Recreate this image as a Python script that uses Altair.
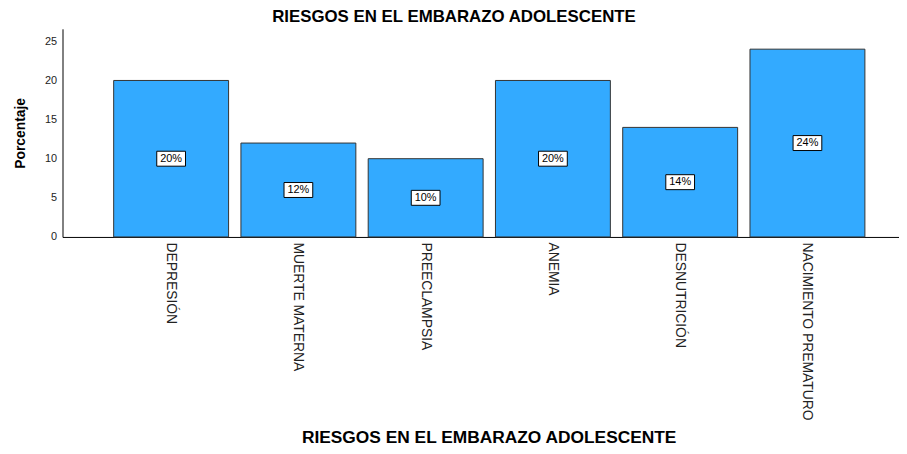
import altair as alt
import pandas as pd

categories = ["DEPRESIÓN", "MUERTE MATERNA", "PREECLAMPSIA", "ANEMIA", "DESNUTRICIÓN", "NACIMIENTO PREMATURO"]
values = [20, 12, 10, 20, 14, 24]
labels = ["20%", "12%", "10%", "20%", "14%", "24%"]

df = pd.DataFrame({"cat": categories, "val": values, "lab": labels})

TITLE = "RIESGOS EN EL EMBARAZO ADOLESCENTE"

xscale = alt.Scale(paddingInner=0.097, paddingOuter=0.335, align=0.6)
yscale = alt.Scale(domain=[0, 26.6], nice=False)

xenc = alt.X("cat:N", sort=categories, scale=xscale,
             axis=alt.Axis(title=TITLE, labelAngle=90, labelAlign="left", labelBaseline="middle",
                           labelFont="Liberation Sans", labelFontSize=14, labelColor="#222",
                           labelPadding=5, ticks=False, domainColor="#000", domainWidth=1,
                           titleFont="Liberation Sans", titleFontSize=17.5, titleFontWeight="bold",
                           titleColor="#000", titlePadding=8, titleX=430, labelLimit=400))

bars = alt.Chart(df).mark_bar(color="#33aaff", stroke="#333", strokeWidth=1).encode(
    x=xenc,
    y=alt.Y("val:Q", scale=yscale,
            axis=alt.Axis(title="Porcentaje", values=[0, 5, 10, 15, 20, 25], ticks=False,
                          grid=False, labelFont="Liberation Sans", labelFontSize=11,
                          labelColor="#222", labelPadding=6, domainColor="#000",
                          titleFont="Liberation Sans", titleFontSize=14, titleFontWeight="bold",
                          titleColor="#000", titlePadding=17)),
)

base = alt.Chart(df).transform_calculate(mid="datum.val / 2")

boxes = base.mark_point(
    shape="M-1,-0.52L1,-0.52L1,0.52L-1,0.52Z", size=841, filled=True,
    fill="white", stroke="#000", strokeWidth=1, opacity=1,
).encode(x=alt.X("cat:N", sort=categories, scale=xscale), y=alt.Y("mid:Q", scale=yscale))

texts = base.mark_text(font="Liberation Sans", fontSize=11, color="#000").encode(
    x=alt.X("cat:N", sort=categories, scale=xscale), y=alt.Y("mid:Q", scale=yscale), text="lab:N"
)

chart = alt.layer(bars, boxes, texts).properties(
    width=844, height=210,
    title=alt.TitleParams(TITLE, font="Liberation Sans", fontSize=17, fontWeight="bold",
                          color="#000", anchor="middle", dx=-27, offset=3),
    autosize=alt.AutoSizeParams(type="none"),
    padding={"left": 55, "top": 19, "right": 0, "bottom": 217},
).configure_view(stroke=None).configure_axis(grid=False)

chart.save("out.html", embed_options={"renderer": "svg", "actions": False})
